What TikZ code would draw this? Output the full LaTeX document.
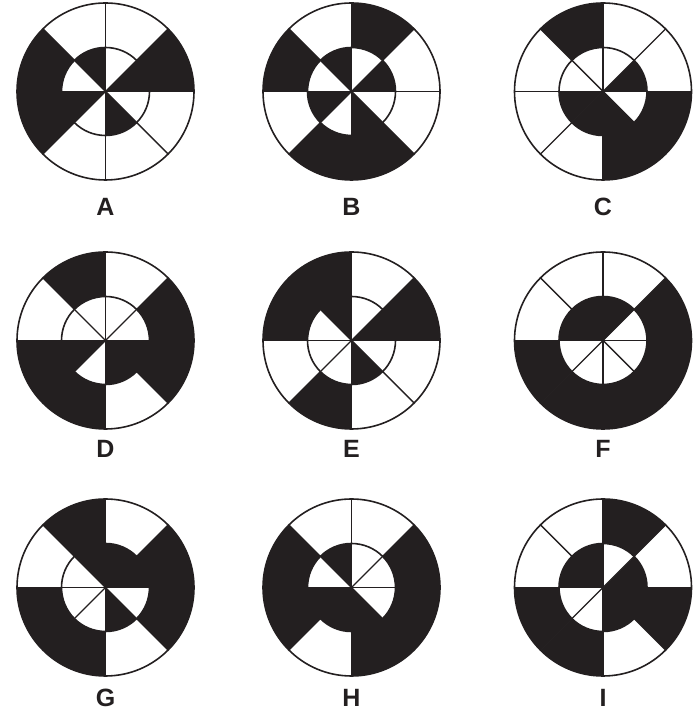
\documentclass[tikz,border=0pt]{standalone}
\usepackage{fontspec}
\setmainfont{Liberation Sans}
\definecolor{ink}{HTML}{231F20}

% center, letter, outer bits, inner bits, label height
\newcommand{\drawwheel}[5]{%
  \foreach \b [count=\k from 0] in {#3} {
    \ifnum\b=1
      \fill[ink] (#1) -- ++(\k*45:88.5) arc[start angle=\k*45, delta angle=45, radius=88.5] -- cycle;
    \fi
  }
  \foreach \b [count=\k from 0] in {#4} {
    \ifnum\b=1
      \fill[ink] (#1) -- ++(\k*45:44) arc[start angle=\k*45, delta angle=45, radius=44] -- cycle;
    \else
      \fill[white] (#1) -- ++(\k*45:44) arc[start angle=\k*45, delta angle=45, radius=44] -- cycle;
    \fi
  }
  \foreach \a in {0,45,...,315}
    \draw[spoke] (#1) -- ++(\a:88.5);
  \draw[ring] (#1) circle[radius=44];
  \draw[ring] (#1) circle[radius=88.5];
  \node[letter] (lab#2) at ($(#1)+(0,-#5)$) {#2};
}

\usetikzlibrary{calc}

\begin{document}
\begin{tikzpicture}[
    x=1pt, y=1pt,
    ring/.style={draw=ink, line width=1.6pt},
    spoke/.style={draw=ink, line width=1.4pt},
    letter/.style={font=\fontsize{25}{30}\selectfont\bfseries, text=ink, inner sep=0pt}
]
\useasboundingbox (0,0) rectangle (699,714);

% row 1
\drawwheel{105.5,622.5}{A}{1,0,0,1,1,0,0,0}{1,0,1,0,1,0,1,0}{115.5}
\drawwheel{351.5,622.5}{B}{0,1,0,1,0,1,1,0}{1,0,1,0,1,0,1,0}{115.5}
\drawwheel{603,622.5}{C}{0,0,1,0,0,0,1,1}{1,0,0,0,1,1,1,0}{115.5}

% row 2
\drawwheel{105.5,373.5}{D}{1,0,1,0,1,1,0,1}{0,0,0,0,1,0,1,1}{108.5}
\drawwheel{351.5,373.5}{E}{1,0,1,1,0,1,0,0}{1,0,1,0,0,0,1,0}{108.5}
\drawwheel{603,373.5}{F}{1,0,0,0,1,1,1,1}{0,1,1,1,0,0,0,0}{108.5}

% row 3
\drawwheel{105.5,126.5}{G}{1,0,1,0,1,1,0,1}{1,1,1,0,0,0,1,0}{110.5}
\drawwheel{351.5,126.5}{H}{1,0,0,1,1,0,1,1}{0,0,1,0,1,1,1,0}{110.5}
\drawwheel{603,126.5}{I}{0,1,0,0,1,1,0,1}{1,0,1,1,0,0,1,1}{110.5}

\end{tikzpicture}
\end{document}
